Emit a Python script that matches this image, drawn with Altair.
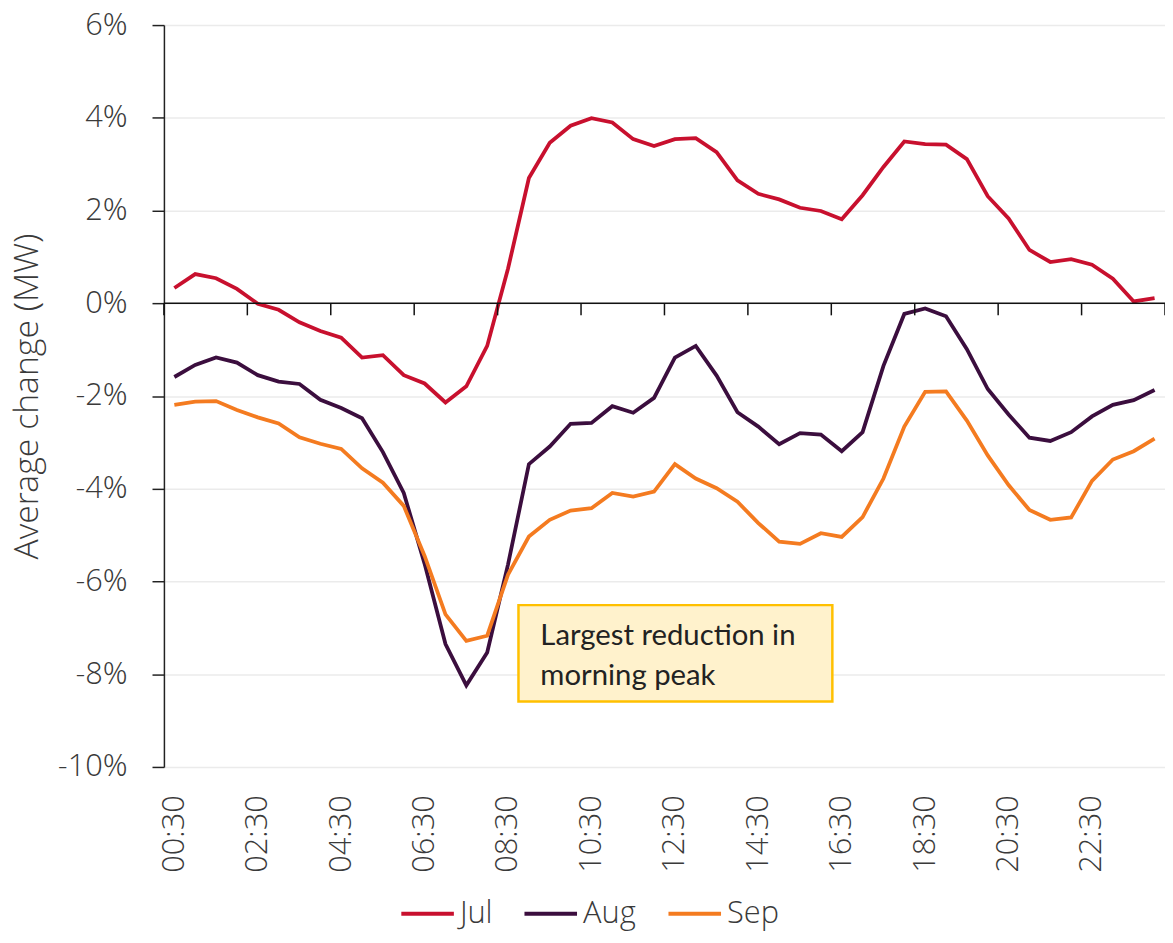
import altair as alt
import pandas as pd

TIMES = ["00:30", "01:00", "01:30", "02:00", "02:30", "03:00", "03:30", "04:00",
         "04:30", "05:00", "05:30", "06:00", "06:30", "07:00", "07:30", "08:00",
         "08:30", "09:00", "09:30", "10:00", "10:30", "11:00", "11:30", "12:00",
         "12:30", "13:00", "13:30", "14:00", "14:30", "15:00", "15:30", "16:00",
         "16:30", "17:00", "17:30", "18:00", "18:30", "19:00", "19:30", "20:00",
         "20:30", "21:00", "21:30", "22:00", "22:30", "23:00", "23:30", "00:00"]

JUL = [0.33, 0.63, 0.54, 0.31, -0.01, -0.14, -0.41, -0.60, -0.74, -1.17, -1.12, -1.55,
       -1.73, -2.14, -1.79, -0.92, 0.75, 2.70, 3.46, 3.83, 3.99, 3.90, 3.54, 3.39,
       3.54, 3.56, 3.26, 2.65, 2.36, 2.24, 2.06, 1.99, 1.81, 2.33, 2.94, 3.49,
       3.43, 3.42, 3.11, 2.31, 1.83, 1.15, 0.89, 0.95, 0.83, 0.53, 0.04, 0.11]
AUG = [-1.59, -1.33, -1.17, -1.28, -1.55, -1.69, -1.74, -2.08, -2.26, -2.48, -3.21, -4.09,
       -5.62, -7.35, -8.24, -7.53, -5.63, -3.47, -3.09, -2.60, -2.58, -2.22, -2.36, -2.04,
       -1.17, -0.92, -1.56, -2.35, -2.66, -3.04, -2.80, -2.83, -3.19, -2.78, -1.35, -0.23,
       -0.11, -0.28, -0.99, -1.85, -2.40, -2.90, -2.97, -2.78, -2.44, -2.19, -2.09, -1.87]
SEP = [-2.19, -2.12, -2.11, -2.30, -2.46, -2.59, -2.89, -3.03, -3.14, -3.56, -3.87, -4.37,
       -5.45, -6.71, -7.28, -7.17, -5.85, -5.03, -4.67, -4.47, -4.42, -4.09, -4.17, -4.06,
       -3.47, -3.78, -3.99, -4.28, -4.74, -5.14, -5.19, -4.96, -5.04, -4.61, -3.78, -2.66,
       -1.91, -1.90, -2.53, -3.28, -3.92, -4.46, -4.67, -4.62, -3.83, -3.37, -3.19, -2.92]

MONTHS = ["Jul", "Aug", "Sep"]
COLORS = ["#C8102E", "#3B0E3E", "#F47B20"]
Y_TICKS = [-10, -8, -6, -4, -2, 0, 2, 4, 6]
LABEL_EVERY = 4

ANNOT_TEXT = "Largest reduction in\nmorning peak"
ANNOT_BOX = {"x": 17.0, "x2": 32.05, "y": -6.51, "y2": -8.59}
ANNOT_POS = {"x": 18.05, "y": -7.37}

rows = []
for m, vals in zip(MONTHS, [JUL, AUG, SEP]):
    for i, v in enumerate(vals):
        rows.append({"pos": i + 0.5, "time": TIMES[i], "month": m, "value": v})
df = pd.DataFrame(rows)

n = len(TIMES)
x_scale = alt.Scale(domain=[0, n], nice=False, zero=False)
y_scale = alt.Scale(domain=[Y_TICKS[0], Y_TICKS[-1]], nice=False, zero=False)

label_expr = "[" + ",".join(f"'{t}'" for t in TIMES) + "][floor(datum.value)]"

FONT = "Open Sans Light, Open Sans"
TXT = "#3a3a3a"

lines = alt.Chart(df).mark_line(strokeWidth=3.8).encode(
    x=alt.X("pos:Q", scale=x_scale,
            axis=alt.Axis(values=[i + 0.5 for i in range(0, n, LABEL_EVERY)],
                          labelExpr=label_expr, labelAngle=-90, ticks=False,
                          domain=False, grid=False, labelPadding=28,
                          labelFontSize=31, labelFont=FONT, labelColor=TXT,
                          title=None)),
    y=alt.Y("value:Q", scale=y_scale,
            axis=alt.Axis(values=Y_TICKS, labelExpr="datum.value + '%'",
                          gridColor="#ebebeb", gridWidth=1.5,
                          domainColor="#222", domainWidth=1.5,
                          tickSize=12, tickColor="#222", tickWidth=1.5,
                          labelPadding=25, labelFontSize=31, labelFont=FONT,
                          labelColor=TXT,
                          title="Average change (MW)", titleFont=FONT,
                          titleFontSize=34, titleColor=TXT,
                          titleFontWeight="normal", titlePadding=13)),
    color=alt.Color("month:N", sort=MONTHS,
                    scale=alt.Scale(domain=MONTHS, range=COLORS),
                    legend=alt.Legend(orient="none", direction="horizontal",
                                      legendX=237, legendY=866, title=None,
                                      symbolType="stroke", symbolSize=2800,
                                      symbolStrokeWidth=4, labelFontSize=31,
                                      labelFont=FONT, labelColor=TXT,
                                      labelOffset=4,
                                      columnPadding=24, padding=0)),
    order="pos:Q",
)

zero = alt.Chart(pd.DataFrame({"value": [0.0]})).mark_rule(
    color="#111", strokeWidth=1.5).encode(y="value:Q")

tick_df = pd.DataFrame({"pos": [float(p) for p in range(0, n + 1, LABEL_EVERY)],
                        "value": 0.0, "value2": -0.26})
ticks = alt.Chart(tick_df).mark_rule(color="#111", strokeWidth=1.5).encode(
    x="pos:Q", y="value:Q", y2="value2:Q")

box = alt.Chart(pd.DataFrame([{"pos": ANNOT_BOX["x"], "pos2": ANNOT_BOX["x2"],
                               "value": ANNOT_BOX["y"], "value2": ANNOT_BOX["y2"]}])).mark_rect(
    fill="#FFF2CC", stroke="#FFC000", strokeWidth=2.5).encode(
    x="pos:Q", x2="pos2:Q", y="value:Q", y2="value2:Q")

note = alt.Chart(pd.DataFrame([{"pos": ANNOT_POS["x"], "value": ANNOT_POS["y"],
                                "t": ANNOT_TEXT}])).mark_text(
    align="left", baseline="alphabetic", lineBreak="\n", lineHeight=40,
    fontSize=29.5, font="Lato", color="#222").encode(
    x="pos:Q", y="value:Q", text="t:N")

chart = alt.layer(lines, zero, ticks, box, note).properties(
    width=1008, height=747,
    autosize=alt.AutoSizeParams(type="none"),
    padding={"left": 157, "top": 14, "right": 0, "bottom": 162},
).configure_view(stroke=None)

chart.save("out.html", embed_options={"renderer": "svg", "actions": False})
